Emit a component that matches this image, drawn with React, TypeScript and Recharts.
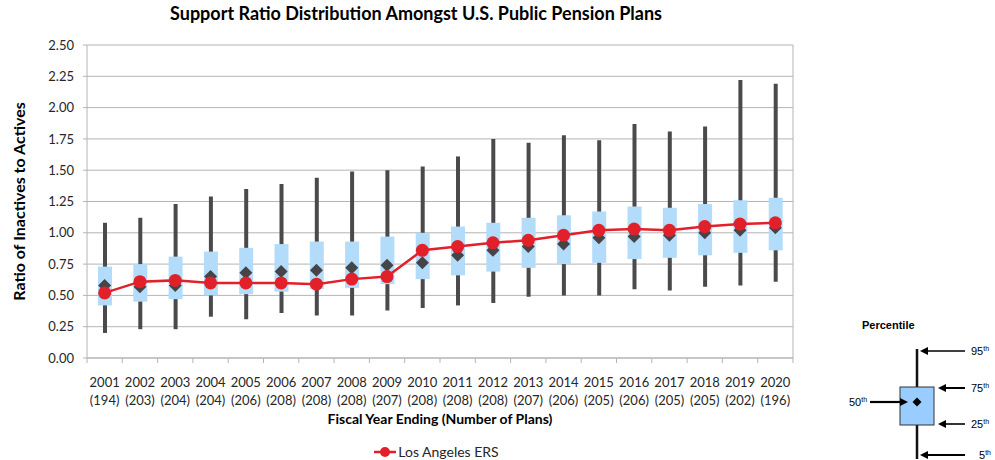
import React from 'react';
import { ComposedChart, Bar, Line, XAxis, YAxis, CartesianGrid, Legend } from 'recharts';

const years = ['2001', '2002', '2003', '2004', '2005', '2006', '2007', '2008', '2009', '2010',
  '2011', '2012', '2013', '2014', '2015', '2016', '2017', '2018', '2019', '2020'];
const planCounts = [194, 203, 204, 204, 206, 208, 208, 208, 207, 208, 208, 208, 207, 206, 205, 206, 205, 205, 202, 196];

// percentiles of the support ratio across plans
const p5 = [0.20, 0.23, 0.23, 0.33, 0.31, 0.36, 0.34, 0.34, 0.38, 0.40, 0.42, 0.44, 0.49, 0.50, 0.50, 0.55, 0.54, 0.57, 0.58, 0.61];
const p25 = [0.42, 0.45, 0.47, 0.50, 0.51, 0.53, 0.55, 0.56, 0.59, 0.63, 0.66, 0.69, 0.72, 0.75, 0.76, 0.79, 0.80, 0.82, 0.84, 0.86];
const p50 = [0.58, 0.57, 0.58, 0.65, 0.68, 0.69, 0.70, 0.72, 0.74, 0.76, 0.82, 0.86, 0.89, 0.91, 0.96, 0.97, 0.98, 1.00, 1.02, 1.04];
const p75 = [0.73, 0.75, 0.81, 0.85, 0.88, 0.91, 0.93, 0.93, 0.97, 1.00, 1.05, 1.08, 1.12, 1.14, 1.17, 1.21, 1.20, 1.23, 1.26, 1.28];
const p95 = [1.08, 1.12, 1.23, 1.29, 1.35, 1.39, 1.44, 1.49, 1.50, 1.53, 1.61, 1.75, 1.72, 1.78, 1.74, 1.87, 1.81, 1.85, 2.22, 2.19];
const laers = [0.52, 0.61, 0.62, 0.60, 0.60, 0.60, 0.59, 0.63, 0.65, 0.86, 0.89, 0.92, 0.94, 0.98, 1.02, 1.03, 1.02, 1.05, 1.07, 1.08];

const yTicks = [0, 0.25, 0.5, 0.75, 1, 1.25, 1.5, 1.75, 2, 2.25, 2.5];

const data = years.map((year, i) => ({
  year,
  plans: planCounts[i],
  whisker: [p5[i], p95[i]],
  box: [p25[i], p75[i]],
  median: p50[i],
  laers: laers[i],
}));

const FONT = 'Lato, "Open Sans", sans-serif';
const KEY_FONT = '"Liberation Sans", Arial, sans-serif';
const RED = '#e2202a';
const GRID = '#b4b4b4';

const YearTick = (props: any) => {
  const { x, y, payload, index } = props;
  const half = payload && payload.offset ? payload.offset : 17.65;
  return (
    <g>
      <line x1={x - half} x2={x - half} y1={y} y2={y + 5} stroke={GRID} />
      {index === years.length - 1 && <line x1={x + half} x2={x + half} y1={y} y2={y + 5} stroke={GRID} />}
      <text x={x} y={y + 29} textAnchor="middle" fontFamily={FONT} fontSize={13} fill="#262626">{payload.value}</text>
      <text x={x} y={y + 47} textAnchor="middle" fontFamily={FONT} fontSize={13} fill="#262626">({planCounts[index]})</text>
    </g>
  );
};

const Diamond = (props: any) => {
  const { cx, cy, index } = props;
  if (cx == null || cy == null) return <g key={index} />;
  return <path key={index} d={`M${cx},${cy - 6.5} L${cx + 6.5},${cy} L${cx},${cy + 6.5} L${cx - 6.5},${cy} Z`} fill="#454547" />;
};

const LegendContent = () => (
  <div style={{ display: 'flex', justifyContent: 'center', alignItems: 'center', fontFamily: FONT, fontSize: 14, color: '#262626', paddingLeft: 30, transform: 'translateY(7px)' }}>
    <svg width={22} height={14} style={{ marginRight: 2 }}>
      <line x1={0} x2={22} y1={7} y2={7} stroke={RED} strokeWidth={2.5} />
      <circle cx={11} cy={7} r={5} fill={RED} />
    </svg>
    <span>Los Angeles ERS</span>
  </div>
);

const Sup = ({ x, y, base }: { x: number; y: number; base: string }) => (
  <text x={x} y={y} fontFamily={KEY_FONT} fontSize={11} fill="#000">
    {base}
    <tspan fontSize={7} dy={-4}>th</tspan>
  </text>
);

const PercentileKey = () => (
  <svg width={995} height={460} style={{ position: 'absolute', left: 0, top: 0, pointerEvents: 'none' }}>
    <text x={862} y={329} fontFamily={KEY_FONT} fontSize={11} fontWeight="bold" fill="#000">Percentile</text>
    <line x1={917} x2={917} y1={349} y2={459} stroke="#111" strokeWidth={2.5} />
    <rect x={900} y={387} width={34} height={38} fill="#99ccff" stroke="#333" strokeWidth={1} />
    <path d="M917,397.5 L921.5,402 L917,406.5 L912.5,402 Z" fill="#000" />
    <line x1={965} x2={926} y1={351} y2={351} stroke="#000" strokeWidth={1.6} />
    <polygon points="920,351 928,347 928,355" fill="#000" />
    <line x1={965} x2={944} y1={388} y2={388} stroke="#000" strokeWidth={2} />
    <polygon points="938,388 946,384 946,392" fill="#000" />
    <line x1={965} x2={944} y1={424} y2={424} stroke="#000" strokeWidth={1.6} />
    <polygon points="938,424 946,420 946,428" fill="#000" />
    <line x1={965} x2={926} y1={455} y2={455} stroke="#000" strokeWidth={2} />
    <polygon points="920,455 928,451 928,459" fill="#000" />
    <line x1={870} x2={902} y1={402} y2={402} stroke="#000" strokeWidth={2.2} />
    <polygon points="908,402 900,398 900,406" fill="#000" />
    <Sup x={971} y={355} base="95" />
    <Sup x={971} y={392} base="75" />
    <Sup x={971} y={428} base="25" />
    <Sup x={979} y={459} base="5" />
    <Sup x={849} y={406} base="50" />
  </svg>
);

const App: React.FC = () => {
  const tickStyle = { fontFamily: FONT, fontSize: 13, fill: '#262626' };
  return (
    <div style={{ position: 'absolute', left: 0, top: 0, width: 995, height: 460, background: '#fff' }}>
      <div style={{ position: 'absolute', left: 0, top: 2, width: 832, textAlign: 'center', fontFamily: FONT, fontWeight: 'bold', fontSize: 18, color: '#000' }}>
        Support Ratio Distribution Amongst U.S. Public Pension Plans
      </div>
      <ComposedChart width={995} height={460} data={data} margin={{ top: 45, right: 152, bottom: 0, left: 0 }}>
        <CartesianGrid vertical={false} stroke={GRID} />
        <XAxis
          dataKey="year"
          interval={0}
          height={78}
          tickLine={false}
          tickSize={0}
          tickMargin={0}
          axisLine={{ stroke: GRID }}
          tick={<YearTick />}
          label={{ value: 'Fiscal Year Ending (Number of Plans)', position: 'insideBottom', offset: 12, style: { fontFamily: FONT, fontSize: 14, fontWeight: 'bold', fill: '#000' } }}
        />
        <XAxis xAxisId="box" dataKey="year" hide />
        <YAxis
          domain={[0, 2.5]}
          ticks={yTicks}
          width={87}
          tickSize={4}
          tickMargin={9}
          tickLine={{ stroke: GRID }}
          axisLine={{ stroke: GRID }}
          tick={tickStyle}
          tickFormatter={(v: number) => v.toFixed(2)}
          label={{ value: 'Ratio of Inactives to Actives', angle: -90, position: 'insideLeft', offset: 19, style: { textAnchor: 'middle', fontFamily: FONT, fontSize: 16, fontWeight: 'bold', fill: '#000' } }}
        />
        <YAxis
          yAxisId="right"
          orientation="right"
          domain={[0, 2.5]}
          ticks={yTicks}
          width={50}
          tickSize={4}
          tickMargin={9}
          tickLine={{ stroke: GRID }}
          axisLine={{ stroke: GRID }}
          tick={{ ...tickStyle, textAnchor: 'start' }}
          tickFormatter={(v: number) => v.toFixed(2)}
        />
        <Bar dataKey="whisker" barSize={4} fill="#4a4a4c" isAnimationActive={false} legendType="none" />
        <Bar xAxisId="box" dataKey="box" barSize={14} fill="#b3dcfb" isAnimationActive={false} legendType="none" />
        <Line dataKey="median" stroke="none" dot={(p: any) => <Diamond key={p.index} {...p} />} activeDot={false} isAnimationActive={false} legendType="none" />
        <Line
          dataKey="laers"
          name="Los Angeles ERS"
          stroke={RED}
          strokeWidth={2.5}
          dot={{ r: 6.5, fill: RED, stroke: RED, strokeWidth: 0 }}
          activeDot={false}
          isAnimationActive={false}
        />
        <Legend verticalAlign="bottom" height={24} content={<LegendContent />} />
      </ComposedChart>
      <PercentileKey />
    </div>
  );
};

export default App;
